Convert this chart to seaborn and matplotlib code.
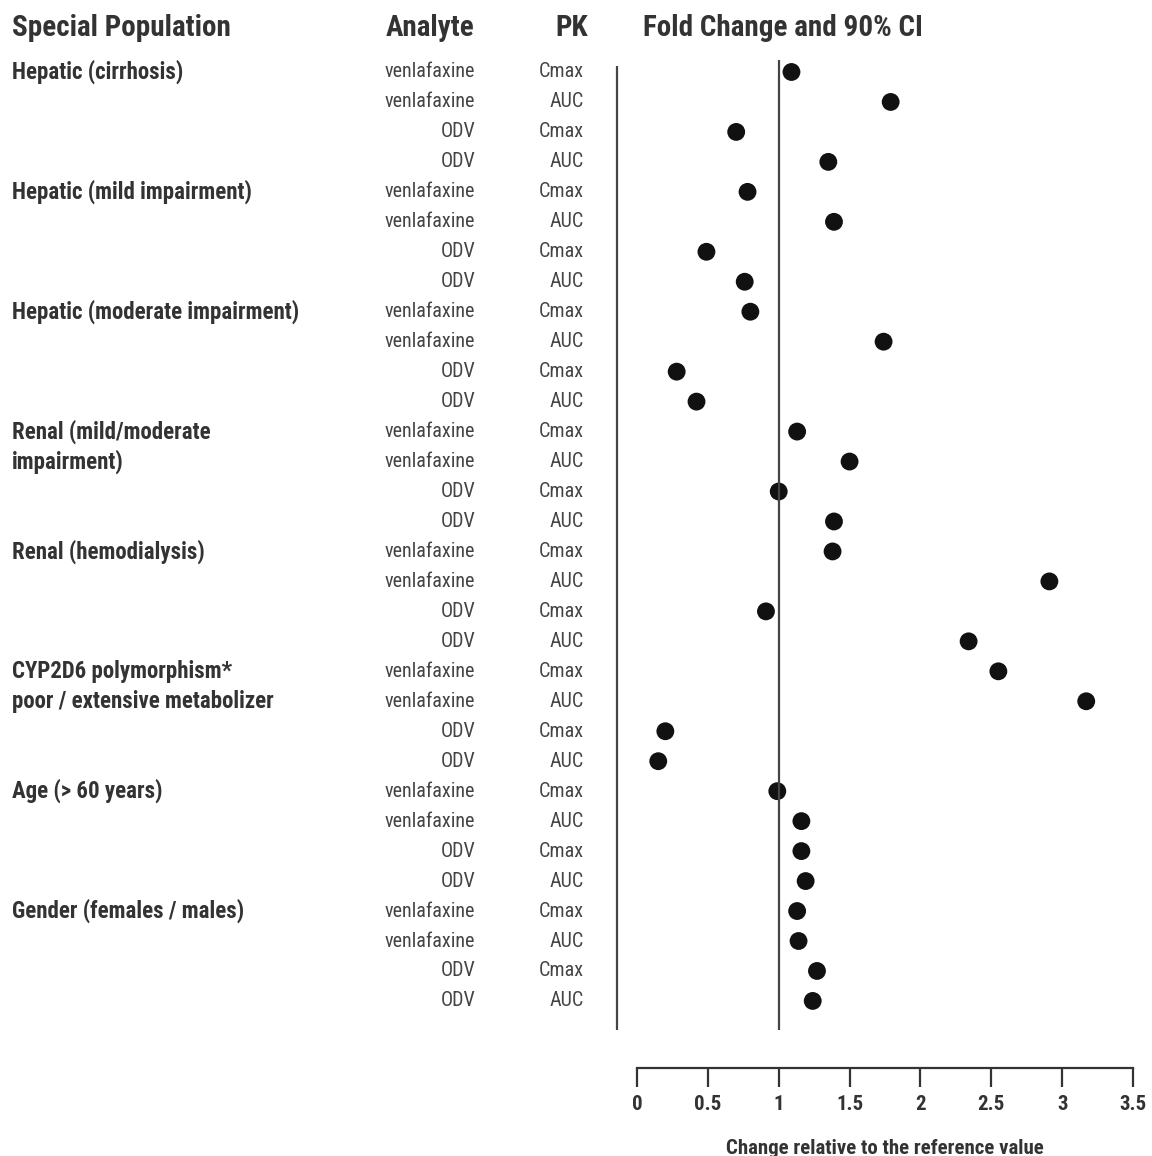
import matplotlib
matplotlib.use("Agg")
import matplotlib.pyplot as plt
import matplotlib.transforms as mtransforms
from matplotlib import font_manager
import seaborn as sns
import pandas as pd

# data
groups = ["Hepatic (cirrhosis)", "Hepatic (mild impairment)", "Hepatic (moderate impairment)",
          "Renal (mild/moderate\nimpairment)", "Renal (hemodialysis)",
          "CYP2D6 polymorphism*\npoor / extensive metabolizer", "Age (> 60 years)",
          "Gender (females / males)"]
analytes = ["venlafaxine", "venlafaxine", "ODV", "ODV"]
pk = ["Cmax", "AUC", "Cmax", "AUC"]
fold_change = [
    1.09, 1.79, 0.70, 1.35,
    0.78, 1.39, 0.49, 0.76,
    0.80, 1.74, 0.28, 0.42,
    1.13, 1.50, 1.00, 1.39,
    1.38, 2.91, 0.91, 2.34,
    2.55, 3.17, 0.20, 0.15,
    0.99, 1.16, 1.16, 1.19,
    1.13, 1.14, 1.27, 1.24,
]
xticks = [0, 0.5, 1, 1.5, 2, 2.5, 3, 3.5]
xtick_labels = ["0", "0.5", "1", "1.5", "2", "2.5", "3", "3.5"]

rows = []
for g_i, g in enumerate(groups):
    for k in range(4):
        rows.append({"row": g_i * 4 + k, "group": g, "analyte": analytes[k], "pk": pk[k],
                     "fold": fold_change[g_i * 4 + k]})
df = pd.DataFrame(rows)

sns.set_style("white")
installed = {f.name for f in font_manager.fontManager.ttflist}
fam = "DejaVu Sans"
for cand in ["Roboto Condensed", "Liberation Sans Narrow", "DejaVu Sans Condensed"]:
    if cand in installed:
        fam = cand
        break
plt.rcParams["font.family"] = [fam, "DejaVu Sans"]

W, H = 1152, 1156
fig = plt.figure(figsize=(W / 100, H / 100), dpi=100)
# axes in pixel terms: x 637..1133, y 60..1030
ax = fig.add_axes([637 / W, 1 - 1030 / H, (1133 - 637) / W, (1030 - 60) / H])

sns.scatterplot(data=df, x="fold", y="row", ax=ax, color="#111111", s=165,
                edgecolor="none", marker="o", legend=False, clip_on=False)

ax.set_xlim(0, 3.5)
ax.set_ylim(31.97, -0.4)
ax.axvline(1, color="#444444", lw=1.6)
ax.vlines(-0.14, -0.2, 31.97, color="#444444", lw=1.6, clip_on=False)

for s in ["top", "right", "left"]:
    ax.spines[s].set_visible(False)
ax.spines["bottom"].set_position(("outward", 27.5))
ax.spines["bottom"].set_color("#333333")
ax.spines["bottom"].set_linewidth(1.6)
ax.set_yticks([])
ax.set_xticks(xticks)
ax.set_xticklabels(xtick_labels, fontsize=15, fontweight="bold", color="#333333")
ax.tick_params(axis="x", bottom=True, direction="out", length=14, width=1.6,
               color="#333333", pad=5)
ax.set_xlabel("Change relative to the reference value", fontsize=15, fontweight="bold",
              color="#333333", labelpad=18)
ax.set_ylabel("")

trans = mtransforms.blended_transform_factory(fig.transFigure, ax.transData)
for _, r in df.iterrows():
    ax.text(475 / W, r["row"], r["analyte"], transform=trans, ha="right", va="center",
            fontsize=14.5, color="#444444")
    ax.text(584 / W, r["row"], r["pk"], transform=trans, ha="right", va="center",
            fontsize=14.5, color="#444444")
for g_i, g in enumerate(groups):
    for j, line in enumerate(g.split("\n")):
        ax.text(12 / W, g_i * 4 + j, line, transform=trans, ha="left", va="center",
                fontsize=16.5, fontweight="bold", color="#333333")

head_y = 1 - 28 / H
hkw = dict(va="center", fontsize=21, fontweight="bold", color="#333333")
fig.text(12 / W, head_y, "Special Population", ha="left", **hkw)
fig.text(430 / W, head_y, "Analyte", ha="center", **hkw)
fig.text(572 / W, head_y, "PK", ha="center", **hkw)
fig.text(643 / W, head_y, "Fold Change and 90% CI", ha="left", **hkw)

fig.savefig("out.png", dpi=100)
